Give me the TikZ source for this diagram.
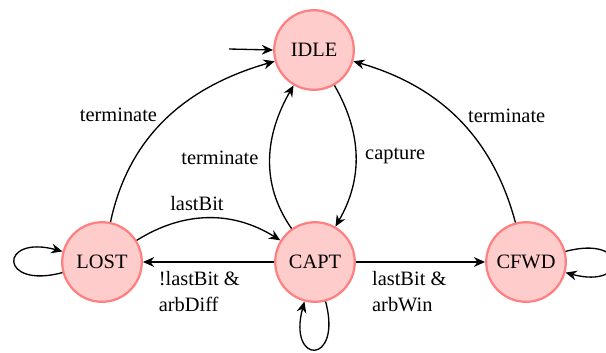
\documentclass[tikz,border=0pt]{standalone}
\usepackage{fontspec}
\setmainfont{Liberation Serif}
\usetikzlibrary{arrows.meta}
\begin{document}
\begin{tikzpicture}[x=0.49pt,y=-0.49pt,
  every node/.style={font=\fontsize{10}{12.5}\selectfont},
  state/.style={circle,draw=red!50,fill=red!20,line width=1.1pt,
    minimum size=39pt,inner sep=0pt},
  trans/.style={-{Stealth[length=5.5pt,width=4.8pt,inset=1.8pt]},line width=0.65pt,black},
  every loop/.style={}]
  \clip (0,0) rectangle (606,352);

  % states
  \node[state] (idle) at (314,50) {IDLE};
  \node[state] (lost) at (102,262) {LOST};
  \node[state] (capt) at (315,262) {CAPT};
  \node[state] (cfwd) at (526,262) {CFWD};

  % initial arrow
  \coordinate (init) at (229,49);
  \draw[trans] (init) -- (idle.180);

  % transitions
  \draw[trans] (lost) to[out=78,in=196] node[pos=0.52,left=3pt] {terminate} (idle);
  \draw[trans] (idle) to[out=-60,in=60] node[right=1pt] {capture} (capt);
  \draw[trans] (capt) to[out=125,in=240] node[left=2pt] {terminate} (idle);
  \draw[trans] (lost) to[out=32,in=148] node[pos=0.42,above] {lastBit} (capt);
  \draw[trans] (capt) -- node[below=1pt,align=left,xshift=-4.5pt] {!lastBit \&\\arbDiff} (lost);
  \draw[trans] (capt) -- node[below=1pt,align=left,xshift=-5.5pt] {lastBit \&\\arbWin} (cfwd);
  \draw[trans] (cfwd) to[out=105,in=344] node[pos=0.52,right=3pt] {terminate} (idle);

  % self loops
  \draw[trans] (lost) to[loop left] (lost);
  \draw[trans] (capt) to[loop below] (capt);
  \draw[trans] (cfwd) to[loop right] (cfwd);
\end{tikzpicture}
\end{document}
